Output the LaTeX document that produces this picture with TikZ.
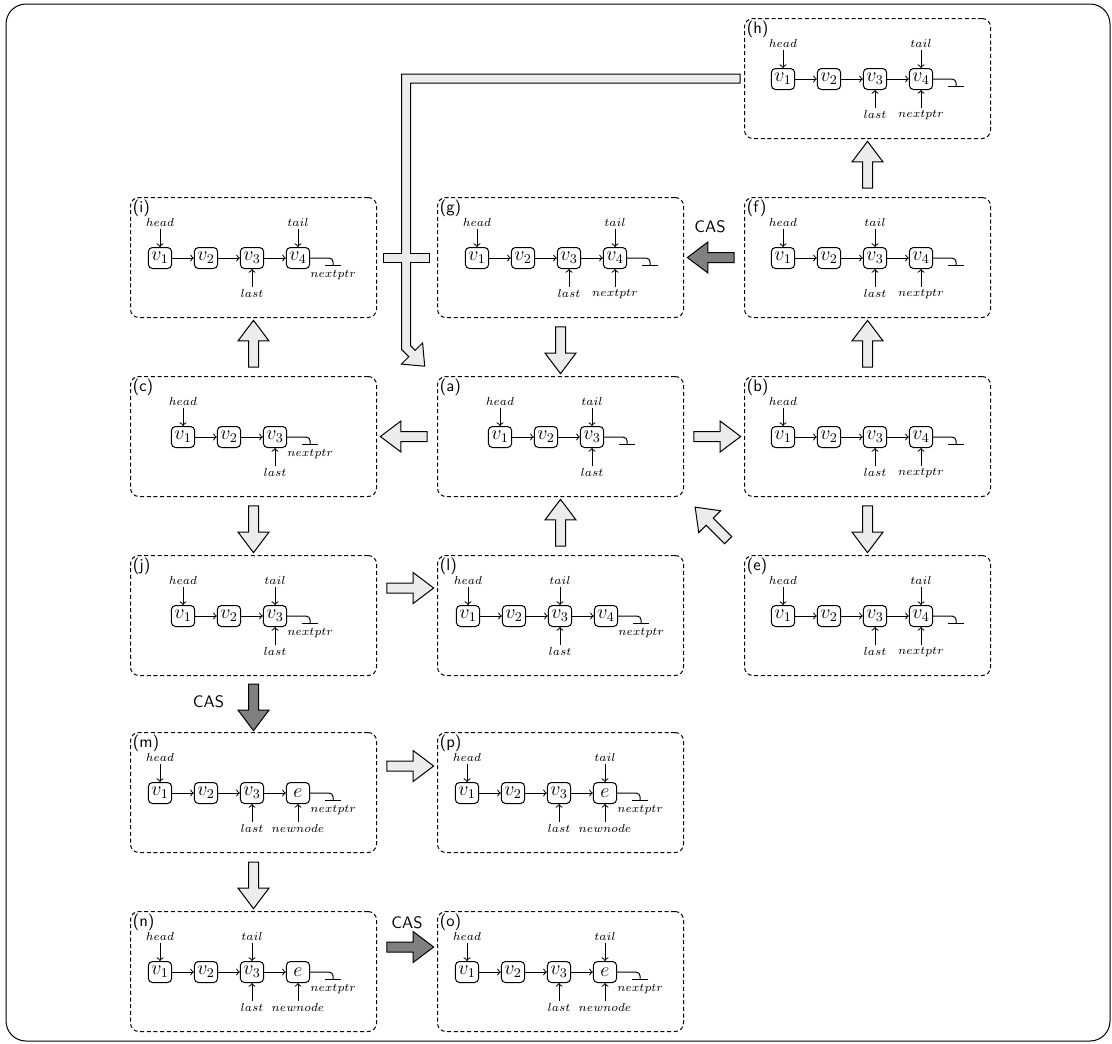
\documentclass[tikz,border=0pt]{standalone}
\usetikzlibrary{positioning,calc,shapes.arrows}
\tikzset{
  panel/.style={draw, semithick, dash pattern=on 2.4pt off 1.6pt, rounded corners=5pt, minimum width=147.6pt, minimum height=72pt, anchor=north west},
  tag/.style={font=\sffamily, anchor=north west, inner sep=1.5pt},
  cell/.style={draw, semithick, rounded corners=2.5pt, minimum width=14pt, minimum height=12.6pt, inner sep=0.5pt, font=\large},
  ptr/.style={font=\scriptsize, inner sep=1pt},
  link/.style={->, semithick},
  flow/.style={single arrow, draw, semithick, fill=gray!15, minimum height=28pt, inner xsep=0pt, inner ysep=2.7pt, single arrow head extend=6.3pt, single arrow tip angle=74},
  cas/.style={flow, fill=gray},
}
\begin{document}
\begin{tikzpicture}[x=0.6pt, y=-0.6pt]
    \useasboundingbox (0,0) rectangle (1112,1043);
    \draw[semithick, rounded corners=12pt] (6,4) rectangle (1110,1041);
    % panels
    \foreach \p/\x/\y in {h/744/18, i/130/197, g/437/197, f/744/197, c/130/376, a/437/376, b/744/376,
                          j/130/555, l/437/555, e/744/555, m/130/732, p/437/732, n/130/911, o/437/911} {
        \node[panel] (p\p) at (\x,\y) {};
        \node[tag] (t\p) at (p\p.north west) {(\p)};
    }
    % lists: panel / first x / cells / tail / nextptr (4 = under cell, 9 = under nil) / newnode
    \foreach \p/\sx/\items/\tn/\np/\nw in {
        h/39/{v_1,v_2,v_3,v_4}/4/4/0, i/30/{v_1,v_2,v_3,v_4}/4/9/0, g/40/{v_1,v_2,v_3,v_4}/4/4/0,
        f/39/{v_1,v_2,v_3,v_4}/3/4/0, c/53/{v_1,v_2,v_3}/0/9/0, a/63/{v_1,v_2,v_3}/3/0/0,
        b/39/{v_1,v_2,v_3,v_4}/0/4/0, j/53/{v_1,v_2,v_3}/3/9/0, l/31/{v_1,v_2,v_3,v_4}/3/9/0,
        e/39/{v_1,v_2,v_3,v_4}/4/4/0, m/30/{v_1,v_2,v_3,e}/0/9/4, p/30/{v_1,v_2,v_3,e}/4/9/4,
        n/30/{v_1,v_2,v_3,e}/3/9/4, o/30/{v_1,v_2,v_3,e}/4/9/4} {
        \foreach \lab [count=\k] in \items {
            \node[cell] (\p\k) at ($(p\p.north west)+(\sx+46*\k-46,61)$) {$\lab$};
            \ifnum\k>1
                \pgfmathtruncatemacro\prev{\k-1}
                \draw[link] (\p\prev) -- (\p\k);
            \fi
            \xdef\nlast{\k}
        }
        % nil
        \coordinate (\p nil) at ($(\p\nlast.east)+(23,7)$);
        \draw[semithick, rounded corners=2.5pt] (\p\nlast.east) -| (\p nil);
        \draw[semithick] ($(\p nil)+(-8,0)$) -- ($(\p nil)+(8,0)$);
        % pointers
        \node[ptr, above=11pt of \p1] (\p hd) {$head$};
        \draw[link] (\p hd) -- (\p1);
        \node[ptr, below=11pt of \p3] (\p ls) {$last$};
        \draw[link] (\p ls) -- (\p3);
        \ifnum\tn>0
            \node[ptr, above=11pt of \p\tn] (\p tl) {$tail$};
            \draw[link] (\p tl) -- (\p\tn);
        \fi
        \ifnum\np=4
            \node[ptr, below=11pt of \p4] (\p np) {$nextptr$};
            \draw[link] (\p np) -- (\p4);
        \fi
        \ifnum\np=9
            \node[ptr, below=2pt of \p nil] (\p np) {$nextptr$};
        \fi
        \ifnum\nw=4
            \node[ptr, below=11pt of \p4] (\p nw) {$newnode$};
            \draw[link] (\p nw) -- (\p4);
        \fi
    }
    % long arrow (h) -> (a)
    \coordinate (hb) at ($(pa.north west)+(-31,-28.5)$);
    \coordinate (bend) at (hb |- ph.west);
    \filldraw[semithick, fill=gray!15] ($(ph.west)+(-4,-4.5)$) -- ($(bend)+(-4.5,-4.5)$) -- ($(hb)+(-4.5,1.9)$)
        -- ($(hb)+(2.8,9.2)$) -- ($(hb)+(-4.6,16.6)$) -- ($(hb)+(18.7,18.7)$) -- ($(hb)+(16.6,-4.6)$)
        -- ($(hb)+(9.2,2.8)$) -- ($(hb)+(4.5,-1.9)$) -- ($(bend)+(4.5,4.5)$) -- ($(ph.west)+(-4,4.5)$) -- cycle;
    % bar (i) - (g), merged with the long arrow
    \filldraw[semithick, fill=gray!15] ($(pi.east)+(6,-4.5)$) rectangle ($(pg.west)+(-8,4.5)$);
    \fill[gray!15] ($(hb |- pi.east)+(-3.8,-5.6)$) rectangle ($(hb |- pi.east)+(3.8,5.6)$);
    % moves
    \node[flow, rotate=90] (fh) at ($(pf.north)!0.5!(ph.south)$) {};
    \node[cas, rotate=180] (fg) at ($(pf.west)!0.5!(pg.east)$) {};
    \node[font=\sffamily] (cfg) at ($(fg)+(-4,-31)$) {CAS};
    \node[flow, rotate=-90] (ga) at ($(pg.south)!0.5!(pa.north)$) {};
    \node[flow, rotate=90] (ci) at ($(pc.north)!0.5!(pi.south)$) {};
    \node[flow, rotate=180] (ac) at ($(pa.west)!0.5!(pc.east)$) {};
    \node[flow] (ab) at ($(pa.east)!0.5!(pb.west)$) {};
    \node[flow, rotate=90] (bf) at ($(pb.north)!0.5!(pf.south)$) {};
    \node[flow, rotate=-90] (be) at ($(pb.south)!0.5!(pe.north)$) {};
    \node[flow, rotate=135] (ea) at ($(pe.north west)!0.5!(pa.south east)$) {};
    \node[flow, rotate=90] (la) at ($(pl.north)!0.5!(pa.south)$) {};
    \node[flow, rotate=-90] (cj) at ($(pc.south)!0.5!(pj.north)$) {};
    \node[flow] (jl) at ($(pj.north east)!0.5!(pl.north west)+(0,33)$) {};
    \node[cas, rotate=-90] (jm) at ($(pj.south)!0.5!(pm.north)$) {};
    \node[font=\sffamily] (cjm) at ($(jm)+(-45,-2)$) {CAS};
    \node[flow] (mp) at ($(pm.north east)!0.5!(pp.north west)+(0,34)$) {};
    \node[flow, rotate=-90] (mn) at ($(pm.south)!0.5!(pn.north)$) {};
    \node[cas] (no) at ($(pn.north east)!0.5!(po.north west)+(0,36)$) {};
    \node[font=\sffamily] (cno) at ($(no)+(0,-24)$) {CAS};
\end{tikzpicture}
\end{document}
